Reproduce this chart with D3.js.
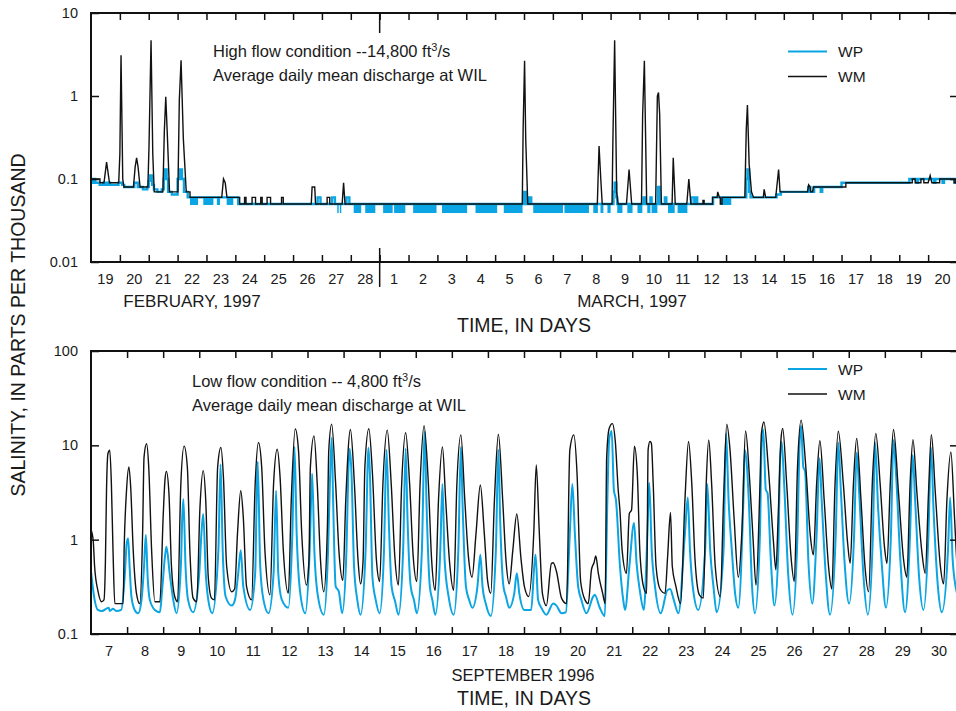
<!DOCTYPE html>
<html><head><meta charset="utf-8">
<script src="https://cdn.jsdelivr.net/npm/d3@7"></script>
<style>
body{margin:0;background:#fff}
svg{display:block}
text{font-family:"Liberation Sans",Arial,Helvetica,sans-serif;fill:#1a1a1a}
</style>
</head><body>
<svg id="c" width="956" height="711"></svg>
<script>
// ---------- tick labels ----------
const topDayLabels = ["19","20","21","22","23","24","25","26","27","28","1","2","3","4","5","6","7","8","9","10","11","12","13","14","15","16","17","18","19","20"];
const bottomDayLabels = ["7","8","9","10","11","12","13","14","15","16","17","18","19","20","21","22","23","24","25","26","27","28","29","30"];
const yTicksTop = [0.01, 0.1, 1, 10];
const yTicksBottom = [0.1, 1, 10, 100];
const seriesNames = ["WP", "WM"];

// ---------- high flow (days since Feb 19 00:00) ----------
// WP: step runs [start day, value]
const wpHigh = [[0,0.1],[0.04,0.09],[0.08,0.1],[0.15,0.09],[0.3,0.085],[0.42,0.09],[0.5,0.085],[0.58,0.09],[0.66,0.085],[0.95,0.09],[1.08,0.085],[1.15,0.08],[1.5,0.09],[1.62,0.08],[1.8,0.075],[1.95,0.08],[2.0,0.095],[2.05,0.11],[2.12,0.085],[2.18,0.075],[2.3,0.07],[2.45,0.075],[2.52,0.1],[2.57,0.13],[2.62,0.1],[2.67,0.07],[2.8,0.065],[3.0,0.1],[3.08,0.13],[3.15,0.1],[3.22,0.07],[3.35,0.06],[5.1,0.05],
[7.85,0.06],[7.95,0.05],[8.35,0.06],[8.45,0.05],[8.85,0.06],[8.95,0.05],
[15.0,0.07],[15.08,0.05],[15.18,0.06],[15.25,0.05],
[18.1,0.07],[18.14,0.09],[18.2,0.06],[18.23,0.05],[19.14,0.06],[19.22,0.05],[19.38,0.06],[19.42,0.05],[19.64,0.08],[19.7,0.05],[19.88,0.06],[19.93,0.05],[20.8,0.06],[20.9,0.05],[20.95,0.06],[21.0,0.05],
[21.55,0.06],[22.7,0.1],[22.74,0.13],[22.8,0.07],[22.85,0.06],[23.75,0.065],[23.9,0.07],[24.85,0.08],[24.92,0.07],[25.05,0.08],[25.28,0.07],[25.33,0.08],[26.0,0.09],[28.35,0.1],[28.6,0.09],[28.65,0.1],[29.2,0.09],[29.25,0.1],[29.5,0.09],[29.55,0.1],[29.92,0.09],[29.97,0.1],[30,0.1]];
// WP: intervals where the record flickers rapidly between two levels [start, end, low, high]
const wpHighFlicker = [[3.43,3.71,0.05,0.06],[3.89,4.24,0.05,0.06],[4.36,4.47,0.05,0.06],[4.7,4.93,0.05,0.06],
[8.53,8.58,0.04,0.05],[8.62,8.67,0.04,0.05],[9.1,9.36,0.04,0.05],[9.5,9.85,0.04,0.05],[10.12,10.45,0.04,0.05],[10.5,10.89,0.04,0.05],[11.16,11.97,0.04,0.05],[12.16,13.03,0.04,0.05],[13.32,14.07,0.04,0.05],[14.3,14.95,0.04,0.05],[15.32,16.35,0.04,0.05],[16.4,17.25,0.04,0.05],[17.4,17.56,0.04,0.05],[17.65,17.75,0.04,0.05],[17.89,18.0,0.04,0.05],[18.23,18.41,0.04,0.05],[18.58,18.76,0.04,0.05],[18.93,19.1,0.04,0.05],[19.27,19.38,0.04,0.05],[19.42,19.62,0.04,0.05],[19.99,20.22,0.04,0.05],[20.32,20.66,0.04,0.05],
[21.8,22.18,0.05,0.06]];

// WM: vertices [day, value]
const wmHigh = [[0,0.1],[0.31,0.1],[0.31,0.09],[0.45,0.09],[0.54,0.16],[0.64,0.09],[0.96,0.09],[1.0,0.2],[1.04,3.1],[1.1,0.1],[1.14,0.08],[1.47,0.08],[1.53,0.14],[1.58,0.18],[1.63,0.14],[1.7,0.08],[1.97,0.08],[2.01,0.25],[2.08,4.7],[2.14,0.2],[2.19,0.07],[2.49,0.07],[2.54,0.37],[2.59,0.98],[2.64,0.37],[2.72,0.07],[3.01,0.07],[3.06,0.9],[3.12,2.7],[3.2,0.3],[3.3,0.07],[3.43,0.07],[3.43,0.06],[4.53,0.06],[4.59,0.1],[4.65,0.09],[4.71,0.06],[5.15,0.06],[5.15,0.05],
[5.32,0.05],[5.32,0.06],[5.37,0.06],[5.37,0.05],[5.58,0.05],[5.58,0.06],[5.7,0.06],[5.7,0.05],[5.88,0.05],[5.88,0.06],[5.93,0.06],[5.93,0.05],[6.1,0.05],[6.1,0.06],[6.22,0.06],[6.22,0.05],[6.6,0.05],[6.6,0.06],[6.66,0.06],[6.66,0.05],
[7.63,0.05],[7.66,0.08],[7.75,0.08],[7.78,0.05],[8.18,0.05],[8.18,0.06],[8.27,0.06],[8.27,0.05],[8.7,0.05],[8.75,0.09],[8.8,0.05],
[14.94,0.05],[14.97,0.4],[15.02,2.66],[15.06,0.3],[15.13,0.05],
[17.54,0.05],[17.6,0.25],[17.66,0.1],[17.71,0.05],
[18.05,0.05],[18.08,0.3],[18.14,4.7],[18.21,0.07],[18.26,0.05],
[18.55,0.05],[18.64,0.13],[18.73,0.05],
[19.07,0.05],[19.11,0.6],[19.17,2.66],[19.25,0.05],
[19.56,0.05],[19.62,1.0],[19.66,1.1],[19.7,0.6],[19.76,0.05],
[20.13,0.05],[20.17,0.18],[20.24,0.05],
[20.64,0.05],[20.71,0.1],[20.78,0.05],
[21.2,0.05],[21.2,0.055],[21.24,0.055],[21.24,0.05],
[21.53,0.05],[21.53,0.06],[21.69,0.06],[21.71,0.07],[21.77,0.06],[21.8,0.06],[21.8,0.05],[21.86,0.05],[21.86,0.06],
[22.65,0.06],[22.7,0.4],[22.74,0.78],[22.8,0.15],[22.88,0.07],[22.95,0.06],
[23.29,0.06],[23.32,0.075],[23.37,0.06],
[23.72,0.06],[23.82,0.13],[23.87,0.07],
[24.82,0.07],[24.86,0.085],[24.91,0.08],[24.93,0.07],[25.0,0.07],[25.02,0.08],
[26.15,0.08],[26.15,0.09],
[28.45,0.09],[28.45,0.1],[28.55,0.1],[28.55,0.09],[28.75,0.09],[28.75,0.1],[28.85,0.1],[28.85,0.09],
[29.0,0.09],[29.07,0.11],[29.13,0.09],[29.4,0.09],[29.4,0.1],[29.9,0.1],[29.9,0.09],[29.96,0.09],[29.96,0.1],[30,0.1]];

// ---------- low flow (days since Sep 7 00:00) ----------
const wpLow = [[0,0.46],[0.1,0.23],[0.19,0.18],[0.3,0.175],[0.49,0.19],[0.52,0.175],[0.61,0.185],[0.7,0.175],[0.84,0.18],[0.94,0.44],[0.99,0.92],[1.03,1.03],[1.07,0.52],[1.12,0.25],[1.21,0.18],[1.31,0.166],[1.4,0.23],[1.47,0.52],[1.52,1.12],[1.57,0.4],[1.63,0.23],[1.77,0.18],[1.91,0.17],[1.97,0.29],[2.05,0.66],[2.09,0.84],[2.18,0.44],[2.28,0.23],[2.37,0.166],[2.49,0.52],[2.53,1.75],[2.56,2.7],[2.62,0.52],[2.69,0.23],[2.83,0.17],[3.0,0.44],[3.06,1.16],[3.11,1.87],[3.18,0.44],[3.25,0.23],[3.36,0.166],[3.53,0.77],[3.59,6.3],[3.65,0.77],[3.73,0.25],[3.9,0.2],[3.99,0.23],[4.08,0.44],[4.15,0.77],[4.22,0.32],[4.41,0.18],[4.55,0.44],[4.59,2.6],[4.62,6.7],[4.69,0.52],[4.78,0.23],[4.92,0.166],[5.06,0.44],[5.13,3.3],[5.19,0.44],[5.29,0.23],[5.47,0.19],[5.58,1.16],[5.64,9.6],[5.7,1.16],[5.8,0.27],[5.94,0.166],
[6.06,0.77],[6.13,5.0],[6.19,0.77],[6.29,0.25],[6.45,0.16],[6.57,0.77],[6.62,3.9],[6.67,12.0],[6.71,2.6],[6.78,0.32],[6.87,0.28],[6.96,0.166],[7.08,0.77],[7.13,5.0],[7.17,9.2],[7.22,5.0],[7.29,0.52],[7.38,0.23],[7.47,0.16],[7.61,0.77],[7.69,9.4],[7.73,4.9],[7.8,0.4],[7.89,0.23],[8.0,0.166],[8.12,0.77],[8.19,9.0],[8.26,1.3],[8.33,0.32],[8.43,0.22],[8.52,0.16],[8.65,0.77],[8.72,9.2],[8.77,1.75],[8.86,0.32],[8.95,0.23],[9.03,0.166],[9.17,0.77],[9.25,14.0],[9.3,2.3],[9.39,0.32],[9.46,0.23],[9.54,0.16],[9.68,0.77],[9.74,3.9],[9.8,0.61],[9.91,0.25],[10.05,0.16],[10.18,0.77],[10.25,9.6],[10.3,2.2],[10.39,0.32],[10.48,0.23],[10.57,0.19],[10.71,0.32],[10.79,0.69],[10.85,0.32],[10.94,0.21],[11.08,0.155],[11.22,0.77],[11.29,9.0],[11.34,1.6],[11.43,0.32],[11.5,0.25],[11.59,0.19],[11.73,0.27],[11.8,0.44],[11.87,0.27],[12.01,0.18],[12.2,0.18],[12.28,0.5],[12.32,0.69],[12.39,0.23],[12.48,0.19],[12.62,0.16],[12.81,0.21],[12.9,0.2],[13.04,0.166],[13.16,0.17],[13.27,1.16],[13.34,3.9],[13.41,1.16],[13.5,0.32],[13.59,0.23],[13.73,0.166],[13.92,0.25],[13.96,0.26],[14.1,0.19],[14.24,0.155],[14.31,2.6],[14.36,11.4],[14.43,14.2],[14.49,3.4],[14.55,2.6],[14.66,0.52],[14.75,0.23],[14.8,0.18],[14.92,0.52],[15.05,1.5],[15.12,0.56],[15.21,0.29],[15.32,0.18],[15.42,1.16],[15.47,4.0],[15.54,0.77],[15.63,0.32],[15.79,0.166],[15.97,0.29],[16.05,0.3],[16.15,0.23],[16.28,0.166],[16.46,1.16],[16.54,2.8],[16.6,0.77],[16.69,0.29],[16.83,0.18],[17.02,0.77],[17.08,3.9],[17.16,0.77],[17.25,0.32],[17.34,0.17],[17.53,0.77],[17.6,13.4],[17.67,2.6],[17.76,0.77],[17.85,0.27],[17.94,0.19],[18.08,2.6],[18.12,8.9],[18.23,2.6],[18.32,0.32],[18.4,0.166],
[18.54,1.16],[18.58,8.9],[18.63,14.7],[18.7,3.4],[18.75,3.1],[18.84,0.61],[18.94,0.2],[19.05,0.77],[19.09,5.9],[19.14,10.9],[19.21,3.9],[19.32,0.44],[19.44,0.16],[19.58,1.16],[19.63,8.9],[19.68,16.1],[19.74,5.9],[19.79,5.3],[19.88,0.61],[19.99,0.21],[20.11,1.16],[20.19,7.3],[20.25,2.6],[20.36,0.44],[20.48,0.16],[20.64,1.16],[20.71,10.7],[20.78,3.4],[20.88,0.61],[21.01,0.21],[21.15,1.16],[21.22,8.4],[21.29,3.1],[21.41,0.4],[21.53,0.16],[21.67,1.16],[21.73,10.7],[21.81,2.3],[21.92,0.52],[22.03,0.19],[22.17,1.16],[22.24,11.4],[22.31,5.0],[22.43,0.61],[22.56,0.17],[22.7,1.16],[22.77,7.9],[22.84,2.6],[22.95,0.4],[23.07,0.18],[23.21,1.16],[23.28,9.4],[23.35,2.06],[23.47,0.32],[23.58,0.17],[23.75,0.77],[23.81,2.8],[23.88,0.61],[24.0,0.27]];

const wmLow = [[0,1.27],[0.06,0.99],[0.1,0.52],[0.19,0.29],[0.29,0.22],[0.36,0.23],[0.4,0.6],[0.43,3.35],[0.47,8.2],[0.52,8.9],[0.565,3.9],[0.61,0.77],[0.66,0.21],[0.89,0.21],[0.92,0.84],[0.98,3.1],[1.05,5.9],[1.1,3.6],[1.17,0.77],[1.26,0.27],[1.35,0.21],[1.43,1.16],[1.47,7.5],[1.54,10.4],[1.6,5.9],[1.68,0.77],[1.77,0.22],[1.91,0.22],[2.0,1.75],[2.05,4.3],[2.09,5.3],[2.16,3.1],[2.23,0.52],[2.32,0.25],[2.4,0.22],[2.49,3.9],[2.58,9.8],[2.67,5.9],[2.74,0.77],[2.83,0.24],[2.93,0.22],[3.02,2.2],[3.11,5.4],[3.18,2.6],[3.25,0.4],[3.34,0.24],[3.42,0.23],[3.51,5.9],[3.6,9.5],[3.67,4.6],[3.76,0.52],[3.9,0.28],[3.98,0.3],[4.06,1.16],[4.15,3.3],[4.22,1.75],[4.31,0.32],[4.45,0.23],[4.55,3.9],[4.64,10.7],[4.73,5.9],[4.82,0.77],[4.96,0.26],[5.06,3.9],[5.16,9.1],[5.24,4.6],[5.33,0.77],[5.47,0.27],[5.55,2.6],[5.66,14.9],[5.75,8.9],[5.84,1.16],[5.97,0.33],
[6.04,0.6],[6.08,5.9],[6.18,12.6],[6.27,3.9],[6.36,0.61],[6.45,0.28],[6.55,1.3],[6.59,8.9],[6.67,16.8],[6.78,3.9],[6.87,0.77],[6.98,0.37],[7.06,2.6],[7.19,14.7],[7.3,3.9],[7.4,0.61],[7.47,0.34],[7.54,0.6],[7.59,5.9],[7.7,15.0],[7.8,5.0],[7.91,0.61],[8.0,0.36],[8.09,3.9],[8.21,14.5],[8.32,3.9],[8.42,0.66],[8.52,0.33],[8.61,3.9],[8.72,13.6],[8.83,3.9],[8.93,0.66],[9.03,0.36],[9.12,3.9],[9.23,16.1],[9.35,3.9],[9.44,0.61],[9.54,0.29],[9.63,2.6],[9.74,9.6],[9.83,2.6],[9.94,0.56],[10.05,0.29],[10.14,3.9],[10.25,12.9],[10.36,2.6],[10.46,0.66],[10.56,0.4],[10.67,1.16],[10.79,3.8],[10.9,1.16],[10.99,0.37],[11.08,0.27],[11.18,2.6],[11.29,13.1],[11.41,2.6],[11.5,0.61],[11.59,0.34],[11.69,0.77],[11.8,1.87],[11.92,0.61],[12.01,0.32],[12.13,0.25],
[12.27,1.16],[12.34,6.2],[12.42,1.3],[12.51,0.27],[12.62,0.2],[12.76,0.56],[12.81,0.57],[12.9,0.46],[13.04,0.24],[13.18,0.21],[13.27,8.9],[13.38,12.9],[13.47,5.0],[13.57,0.36],[13.69,0.23],[13.78,0.21],[13.87,0.48],[13.94,0.57],[13.99,0.67],[14.06,0.44],[14.18,0.27],[14.25,0.21],[14.29,7.3],[14.36,15.1],[14.45,17.0],[14.53,11.0],[14.61,3.4],[14.66,2.0],[14.72,0.77],[14.84,0.44],[14.92,1.9],[14.98,2.06],[15.06,9.8],[15.14,5.0],[15.21,0.77],[15.31,0.32],[15.4,0.27],[15.44,9.0],[15.49,11.0],[15.53,10.5],[15.58,4.0],[15.66,0.52],[15.77,0.3],[15.91,0.27],[15.98,0.66],[16.06,1.94],[16.11,0.52],[16.21,0.32],[16.34,0.21],[16.46,2.6],[16.56,11.0],[16.65,3.9],[16.74,0.61],[16.86,0.26],[16.97,0.24],[17.05,3.9],[17.12,11.4],[17.2,3.9],[17.3,0.52],[17.44,0.25],[17.53,2.6],[17.62,16.8],[17.71,8.9],[17.82,1.75],[17.94,0.4],[18.04,1.26],
[18.14,14.2],[18.26,3.9],[18.35,0.99],[18.43,0.33],[18.54,3.9],[18.58,13.4],[18.65,17.7],[18.77,5.9],[18.91,0.99],[18.98,0.48],[19.05,2.06],[19.12,11.4],[19.17,15.1],[19.28,3.9],[19.4,0.66],[19.49,0.36],[19.58,5.9],[19.68,18.5],[19.81,5.9],[19.93,1.16],[20.02,0.69],[20.11,3.9],[20.2,11.2],[20.32,2.6],[20.44,0.52],[20.53,0.3],[20.62,3.9],[20.71,14.1],[20.85,3.9],[20.97,0.91],[21.04,0.56],[21.13,3.9],[21.22,11.8],[21.34,2.6],[21.45,0.52],[21.55,0.28],[21.66,4.6],[21.75,13.4],[21.87,3.9],[21.99,0.84],[22.06,0.56],[22.15,3.9],[22.24,14.7],[22.38,3.1],[22.52,0.61],[22.61,0.4],[22.7,3.9],[22.78,11.5],[22.89,3.1],[23.03,0.72],[23.12,0.44],[23.21,3.1],[23.29,13.0],[23.4,3.1],[23.54,0.52],[23.63,0.34],[23.72,2.6],[23.83,8.5],[23.93,1.75],[24.0,0.52]];

// ---------- drawing ----------
const BLUE = "#0aa5e2";
const svg = d3.select("#c");
const X0 = 91, X1 = 957;

function panel(o) {
  const x = d3.scaleLinear().domain([0, o.days]).range([X0, X1]);
  const y = d3.scaleLog().domain(o.ydom).range([o.yb, o.yt]);
  const g = svg.append("g");
  const cid = "clip" + o.id;
  svg.append("clipPath").attr("id", cid).append("rect")
    .attr("x", X0).attr("y", o.yt).attr("width", X1 - X0).attr("height", o.yb - o.yt);
  const lines = g.append("g").attr("clip-path", `url(#${cid})`);
  if (o.flicker) {
    lines.append("g").selectAll("rect").data(o.flicker).join("rect")
      .attr("x", d => x(d[0])).attr("width", d => x(d[1]) - x(d[0]))
      .attr("y", d => y(d[3])).attr("height", d => y(d[2]) - y(d[3]) + 1)
      .attr("fill", BLUE);
  }
  lines.append("path").datum(o.wp)
    .attr("fill", "none").attr("stroke", BLUE).attr("stroke-width", o.wpw)
    .attr("d", d3.line().x(d => x(d[0])).y(d => y(d[1])).curve(o.wpCurve));
  lines.append("path").datum(o.wm)
    .attr("fill", "none").attr("stroke", "#111").attr("stroke-width", 1.4)
    .attr("d", d3.line().x(d => x(d[0])).y(d => y(d[1])).curve(o.wmCurve));

  const tickVals = d3.range(1, o.days);
  const styleAxis = sel => { sel.select(".domain").remove(); sel.selectAll("line").attr("stroke", "#111").attr("stroke-width", 1.5); };
  g.append("g").attr("transform", `translate(0,${o.yb})`)
    .call(d3.axisBottom(x).tickValues(tickVals).tickSize(-7).tickFormat(""))
    .call(styleAxis);
  g.append("g").attr("transform", `translate(0,${o.yt})`)
    .call(d3.axisTop(x).tickValues(tickVals).tickSize(-7).tickFormat(""))
    .call(styleAxis);
  const ya = g.append("g").attr("transform", `translate(${X0},0)`)
    .call(d3.axisLeft(y).tickValues(o.yticks).tickSize(-8).tickPadding(13).tickFormat(d => String(d)))
    .call(styleAxis);
  ya.attr("font-family", null).attr("font-size", null);
  ya.selectAll("text").style("font-size", "14.5px").attr("fill", "#1a1a1a");
  g.append("g").attr("transform", `translate(${X1},0)`)
    .call(d3.axisRight(y).tickValues(o.yticks).tickSize(-7).tickFormat(""))
    .call(styleAxis);

  g.append("rect").attr("x", X0).attr("y", o.yt).attr("width", X1 - X0).attr("height", o.yb - o.yt)
    .attr("fill", "none").attr("stroke", "#111").attr("stroke-width", 2);

  g.append("g").selectAll("text").data(o.labels).join("text")
    .attr("x", (d, i) => x(i + 0.5)).attr("y", o.labelY)
    .attr("text-anchor", "middle").style("font-size", "14.5px").text(d => d);

  const a = g.append("text").attr("x", o.annX).attr("y", o.annY).style("font-size", "16.5px");
  a.append("tspan").text(o.ann1);
  a.append("tspan").attr("dy", -6).style("font-size", "11px").text("3");
  a.append("tspan").attr("dy", 6).text("/s");
  g.append("text").attr("x", o.annX).attr("y", o.annY + 23.5).style("font-size", "16.5px")
    .text("Average daily mean discharge at WIL");

  const lg = g.append("g");
  [BLUE, "#111"].forEach((c, i) => {
    const ly = o.legY + i * 25;
    lg.append("line").attr("x1", 788).attr("x2", 827).attr("y1", ly).attr("y2", ly)
      .attr("stroke", c).attr("stroke-width", i === 0 ? 2.2 : 1.3);
    lg.append("text").attr("x", 838).attr("y", ly + 5.5).style("font-size", "15.5px").text(seriesNames[i]);
  });
  return { x, y, g };
}

const topPanel = panel({
  id: "t", days: 30, ydom: [0.01, 10], yt: 13, yb: 262, yticks: yTicksTop,
  wp: wpHigh, wm: wmHigh, flicker: wpHighFlicker, wpw: 2.4, wpCurve: d3.curveStepAfter, wmCurve: d3.curveLinear,
  labels: topDayLabels, labelY: 284,
  annX: 213, annY: 57, ann1: "High flow condition --14,800 ft",
  legY: 51.5
});
topPanel.g.append("line").attr("x1", topPanel.x(10)).attr("x2", topPanel.x(10)).attr("y1", 13).attr("y2", 33)
  .attr("stroke", "#111").attr("stroke-width", 1.5);
topPanel.g.append("line").attr("x1", topPanel.x(10)).attr("x2", topPanel.x(10)).attr("y1", 248).attr("y2", 287)
  .attr("stroke", "#111").attr("stroke-width", 1.5);
svg.append("text").attr("x", 192).attr("y", 307).attr("text-anchor", "middle").style("font-size", "17px").text("FEBRUARY, 1997");
svg.append("text").attr("x", 632).attr("y", 307).attr("text-anchor", "middle").style("font-size", "17px").text("MARCH, 1997");
svg.append("text").attr("x", 524).attr("y", 332).attr("text-anchor", "middle").style("font-size", "19.5px").text("TIME, IN DAYS");

const bottomPanel = panel({
  id: "b", days: 24, ydom: [0.1, 100], yt: 351, yb: 634, yticks: yTicksBottom,
  wp: wpLow, wm: wmLow, wpw: 2, wpCurve: d3.curveMonotoneX, wmCurve: d3.curveMonotoneX,
  labels: bottomDayLabels, labelY: 656,
  annX: 192, annY: 387, ann1: "Low flow condition -- 4,800 ft",
  legY: 369
});
svg.append("text").attr("x", 523).attr("y", 681).attr("text-anchor", "middle").style("font-size", "16.5px").text("SEPTEMBER 1996");
svg.append("text").attr("x", 524).attr("y", 705).attr("text-anchor", "middle").style("font-size", "19.5px").text("TIME, IN DAYS");

svg.append("text").attr("transform", "translate(25,325) rotate(-90)").attr("text-anchor", "middle")
  .style("font-size", "19.5px").text("SALINITY, IN PARTS PER THOUSAND");
</script>
</body></html>
